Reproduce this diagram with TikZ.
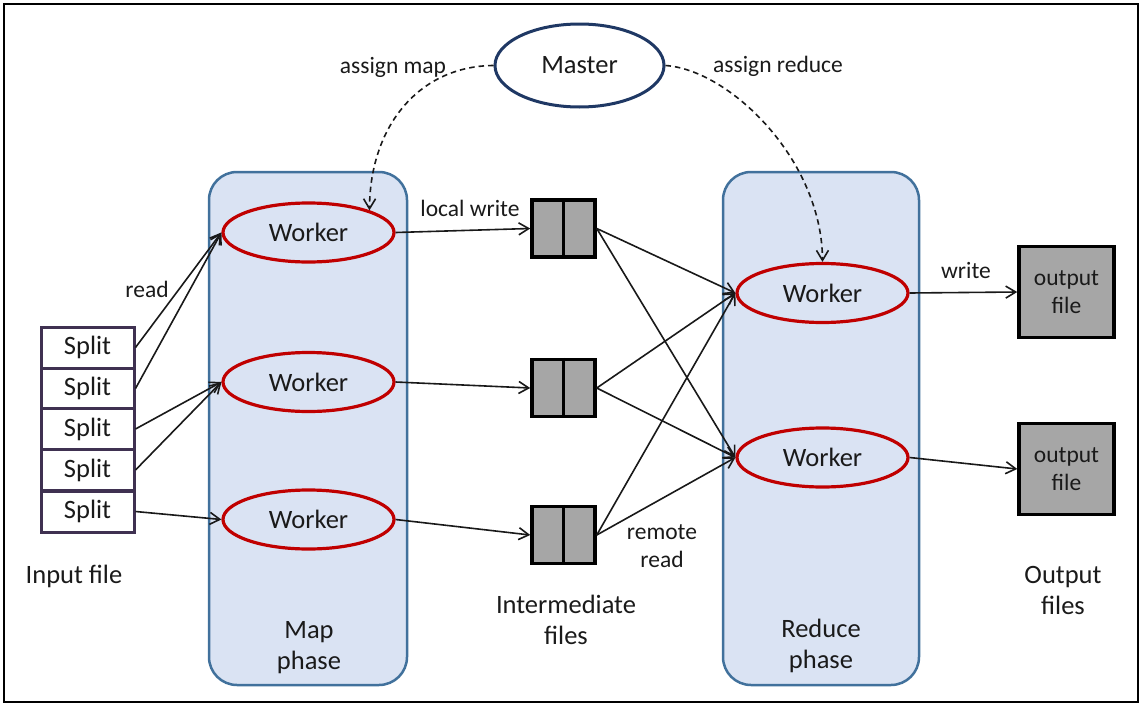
\documentclass[tikz,border=0pt]{standalone}
\usepackage{fontspec}
\setmainfont{Carlito}
\usetikzlibrary{shapes.geometric,arrows.meta}
\definecolor{phasefill}{HTML}{DAE3F3}
\definecolor{phaseline}{HTML}{41719C}
\definecolor{workred}{HTML}{C00000}
\definecolor{masterblue}{HTML}{1F3864}
\definecolor{splitline}{HTML}{3F3151}
\definecolor{filegray}{HTML}{A6A6A6}
\definecolor{txt}{HTML}{1A1A1A}
\begin{document}
\begin{tikzpicture}[x=1pt,y=-1pt,
  every node/.style={text=txt},
  bigtxt/.style={font=\fontsize{26.5}{31}\selectfont},
  smalltxt/.style={font=\fontsize{23.5}{27.5}\selectfont},
  phasebox/.style={rectangle, draw=phaseline, fill=phasefill, line width=2.5pt, rounded corners=28pt, inner sep=0pt},
  worker/.style={ellipse, draw=workred, line width=3.2pt, minimum width=171pt, minimum height=59pt, inner sep=0pt, bigtxt},
  master/.style={ellipse, draw=masterblue, line width=3pt, fill=white, minimum width=169pt, minimum height=83pt, inner sep=0pt, bigtxt},
  splitbox/.style={rectangle, draw=splitline, line width=3pt, fill=white, minimum width=93pt, minimum height=41pt, inner sep=0pt, bigtxt},
  filebox/.style={rectangle, draw=black, line width=3.5pt, fill=filegray, minimum width=63pt, minimum height=57pt, inner sep=0pt},
  outbox/.style={rectangle, draw=black, line width=3.5pt, fill=filegray, minimum width=95pt, minimum height=91pt, inner sep=0pt, smalltxt, align=center},
  flow/.style={draw=black!90, line width=1.6pt, -{Straight Barb[length=10pt,width=12pt]}},
  assign/.style={flow, dash pattern=on 5.5pt off 4pt},
  lbl/.style={smalltxt, align=center, inner sep=0pt},
  captxt/.style={bigtxt, align=center, inner sep=0pt}
]
\useasboundingbox (0,0) rectangle (1141,704);
\draw[line width=2.5pt, black] (4,4) rectangle (1138,702);

% phase boxes
\node[phasebox, minimum width=198pt, minimum height=513pt] (mapbox) at (308,428.5) {};
\node[phasebox, minimum width=196pt, minimum height=513pt] (redbox) at (821,428.5) {};

% master
\node[master] (M) at (579.5,65.5) {Master};

% workers
\node[worker] (W1) at (308.5,232.5) {Worker};
\node[worker] (W2) at (308.5,382) {Worker};
\node[worker] (W3) at (308.5,519.5) {Worker};
\node[worker] (R1) at (822.5,293) {Worker};
\node[worker] (R2) at (822.5,457.5) {Worker};

% splits
\node[splitbox] (S1) at (87.5,347.5) {Split};
\node[splitbox] (S2) at (87.5,388.5) {Split};
\node[splitbox] (S3) at (87.5,429) {Split};
\node[splitbox] (S4) at (87.5,470) {Split};
\node[splitbox] (S5) at (87.5,511.5) {Split};

% intermediate files
\node[filebox] (F1) at (563.5,228.5) {};
\node[filebox] (F2) at (563.5,388) {};
\node[filebox] (F3) at (563.5,535) {};
\foreach \f in {F1,F2,F3} \draw[line width=3pt] (\f.north) -- (\f.south);

% output files
\node[outbox] (O1) at (1066.5,292) {output\\file};
\node[outbox] (O2) at (1066.5,469) {output\\file};

% arrows: read
\draw[flow] (S1.east) -- (W1.west);
\draw[flow] (S2.east) -- (W1.west);
\draw[flow] (S3.east) -- (W2.west);
\draw[flow] (S4.east) -- (W2.west);
\draw[flow] (S5.east) -- (W3.west);
% local write
\draw[flow] (W1.east) -- (F1.west);
\draw[flow] (W2.east) -- (F2.west);
\draw[flow] (W3.east) -- (F3.west);
% remote read
\foreach \f in {F1,F2,F3} {
  \draw[flow] (\f.east) -- (R1.west);
  \draw[flow] (\f.east) -- (R2.west);
}
% write
\draw[flow] (R1.east) -- (O1.west);
\draw[flow] (R2.east) -- (O2.west);

% assign
\draw[assign] (M.west) .. controls (420,66) and (370,125) .. (W1.20);
\draw[assign] (M.east) .. controls (730,70) and (822,160) .. (R1.north);

% labels
\node[lbl] (lread) at (147,289) {read};
\node[lbl] (llw) at (470,208) {local write};
\node[lbl] (lwr) at (966,270) {write};
\node[lbl] (lrr) at (662,546) {remote\\read};
\node[lbl] (lam) at (393,67) {assign map};
\node[lbl] (lar) at (778,66) {assign reduce};

\node[captxt] (cin) at (74,576) {Input file};
\node[captxt] (cmap) at (309,648) {Map\\phase};
\node[captxt] (cint) at (566,620) {Intermediate\\files};
\node[captxt] (cred) at (821,646) {Reduce\\phase};
\node[captxt] (cout) at (1063,590) {Output\\files};
\end{tikzpicture}
\end{document}
